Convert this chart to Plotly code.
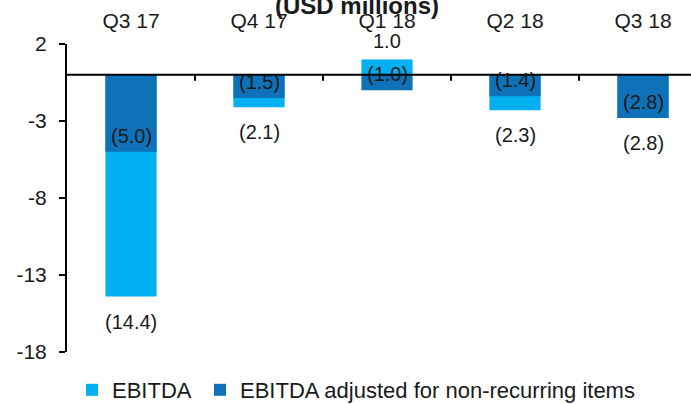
import plotly.graph_objects as go

quarters = ["Q3 17", "Q4 17", "Q1 18", "Q2 18", "Q3 18"]
ebitda = [-14.4, -2.1, 1.0, -2.3, -2.8]
ebitda_adj = [-5.0, -1.5, -1.0, -1.4, -2.8]
y_ticks = [2, -3, -8, -13, -18]
y_tick_text = ["2", "-3", "-8", "-13", "-18"]


def fmt(v):
    return f"({abs(v):.1f})" if v < 0 else f"{v:.1f}"


LIGHT = "#00B0F0"
DARK = "#0F71B8"
FONT = "Liberation Sans"
TXT = "#1a1a1a"
FS_TICK = 21
FS_LAB = 20

fig = go.Figure()
fig.add_bar(x=quarters, y=ebitda, name="EBITDA", marker_color=LIGHT,
            marker_line_width=0, width=0.4, legendwidth=83)
fig.add_bar(x=quarters, y=ebitda_adj, name="EBITDA adjusted for non-recurring items",
            marker_color=DARK, marker_line_width=0, width=0.4, legendwidth=450)

annotations = []
for q, v in zip(quarters, ebitda):
    annotations.append(dict(x=q, y=v, xref="x", yref="y", text=fmt(v), showarrow=False,
                            yshift=-25 if v < 0 else 18,
                            font=dict(family=FONT, size=FS_LAB, color=TXT)))
for q, v in zip(quarters, ebitda_adj):
    annotations.append(dict(x=q, y=v, xref="x", yref="y", text=fmt(v), showarrow=False,
                            yshift=16, font=dict(family=FONT, size=FS_LAB, color=TXT)))

# zero line and category-boundary tick marks (drawn above the bars)
shapes = [dict(type="line", xref="paper", yref="y", x0=0, x1=1, y0=0, y1=0,
               line=dict(color="black", width=2), layer="above")]
for i in range(len(quarters) - 1):
    shapes.append(dict(type="line", xref="x", yref="y", x0=i + 0.5, x1=i + 0.5,
                       ysizemode="pixel", yanchor=0, y0=0, y1=-6,
                       line=dict(color="black", width=2), layer="above"))

xr = [-0.5, 4.375]
fig.update_layout(
    width=691, height=404,
    margin=dict(l=67, r=0, t=44, b=52, autoexpand=False),
    plot_bgcolor="white", paper_bgcolor="white",
    barmode="overlay",
    font=dict(family=FONT, size=FS_TICK, color=TXT),
    title=dict(text="<b>(USD millions)</b>", x=357 / 691, xanchor="center",
               xref="container", yref="container", y=1 - 14 / 404, yanchor="bottom",
               automargin=False,
               font=dict(family=FONT, size=24, color=TXT)),
    xaxis=dict(type="category", range=xr, side="top", showline=False, ticks="",
               showgrid=False, zeroline=False, ticklabelstandoff=11, automargin=False,
               tickfont=dict(family=FONT, size=FS_TICK, color=TXT)),
    yaxis=dict(range=[-18, 2], tickvals=y_ticks, ticktext=y_tick_text, ticks="outside",
               ticklen=6, tickwidth=2, tickcolor="black", showline=True,
               linecolor="black", linewidth=2, showgrid=False, zeroline=False,
               ticklabelstandoff=8, automargin=False,
               tickfont=dict(family=FONT, size=FS_TICK, color=TXT)),
    legend=dict(orientation="h", xref="container", yref="container",
                x=72 / 691, y=14 / 404, xanchor="left", yanchor="middle",
                font=dict(family=FONT, size=22, color=TXT),
                bgcolor="rgba(0,0,0,0)"),
    shapes=shapes,
    annotations=annotations,
)

fig.write_html("out.html", config={"displayModeBar": False},
               post_script="document.body.style.margin='0';document.body.style.padding='0';")
